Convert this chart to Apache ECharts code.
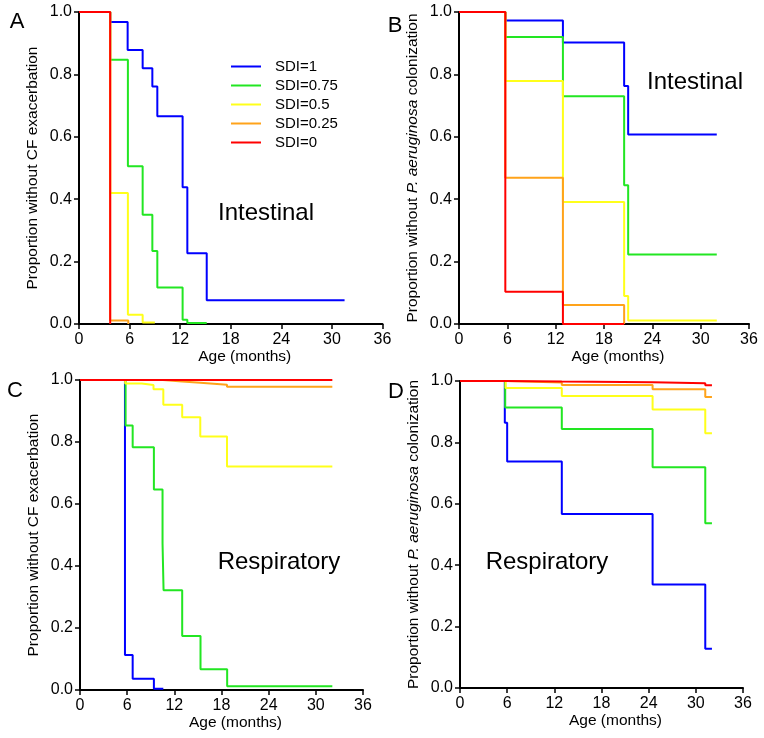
<!DOCTYPE html>
<html>
<head>
<meta charset="utf-8">
<script src="https://cdn.jsdelivr.net/npm/echarts@6/dist/echarts.min.js"></script>
<style>html,body{margin:0;padding:0;background:#fff}#c{width:764px;height:738px}</style>
</head>
<body>
<div id="c"></div>
<script>
// ---- Series names / colours ----
const sdiNames = ['SDI=1', 'SDI=0.75', 'SDI=0.5', 'SDI=0.25', 'SDI=0'];
const sdiColors = ['#0000ff', '#22e622', '#ffff1a', '#ffa31a', '#ff0000'];

// ---- Axis ticks ----
const xTicks = [0, 6, 12, 18, 24, 30, 36];
const yTicks = [0, 0.2, 0.4, 0.6, 0.8, 1.0];

// ---- Panel A: Intestinal, CF exacerbation (time in months, survival) ----
const aBlueT = [0, 3.7, 5.77, 7.55, 8.7, 9.29, 12.29, 12.85, 15.15, 31.5];
const aBlueS = [1, 0.968, 0.878, 0.82, 0.761, 0.666, 0.438, 0.227, 0.076, 0.076];
const aGreenT = [0, 3.7, 5.8, 7.55, 8.7, 9.29, 12.29, 12.85, 15.15];
const aGreenS = [1, 0.847, 0.506, 0.35, 0.234, 0.117, 0.014, 0.003, 0.003];
const aYellowT = [0, 3.7, 5.8, 7.55, 9.0];
const aYellowS = [1, 0.42, 0.03, 0.005, 0.005];
const aOrangeT = [0, 3.7, 5.85];
const aOrangeS = [1, 0.011, 0];
const aRedT = [0, 3.7];
const aRedS = [1, 0];

// ---- Panel B: Intestinal, P. aeruginosa colonization ----
const bBlueT = [0, 5.75, 12.9, 20.5, 21.0, 32.0];
const bBlueS = [1, 0.973, 0.902, 0.763, 0.607, 0.607];
const bGreenT = [0, 5.75, 12.9, 20.5, 21.0, 32.0];
const bGreenS = [1, 0.92, 0.73, 0.445, 0.223, 0.223];
const bYellowT = [0, 5.75, 12.9, 20.5, 21.0, 32.0];
const bYellowS = [1, 0.779, 0.391, 0.09, 0.011, 0.011];
const bOrangeT = [0, 5.75, 12.9, 20.5];
const bOrangeS = [1, 0.469, 0.061, 0];
const bRedT = [0, 5.75, 12.9, 20.5];
const bRedS = [1, 0.103, 0, 0];

// ---- Panel C: Respiratory, CF exacerbation ----
const cBlueT = [0, 5.72, 6.7, 9.4, 10.6];
const cBlueS = [1, 0.113, 0.036, 0.004, 0.004];
const cGreenT = [0, 5.8, 6.7, 9.4, 10.5, 10.63, 13.0, 15.33, 18.72, 32.1];
const cGreenS = [1, 0.853, 0.783, 0.647, 0.473, 0.322, 0.174, 0.067, 0.012, 0.012];
const cYellowT = [0, 5.75, 7.85, 9.35, 10.6, 13.0, 15.3, 18.7, 32.1];
const cYellowS = [1, 0.989, 0.984, 0.97, 0.92, 0.88, 0.818, 0.721, 0.721];
const cOrangeT = [0, 10.55, 13.0, 15.3, 18.7, 32.1];
const cOrangeS = [1, 0.995, 0.991, 0.985, 0.978, 0.978];
const cRedT = [0, 32.1];
const cRedS = [1, 1];

// ---- Panel D: Respiratory, P. aeruginosa colonization ----
const dBlueT = [0, 5.7, 6.0, 12.95, 24.5, 31.2, 32.05];
const dBlueS = [1, 0.864, 0.738, 0.567, 0.337, 0.128, 0.128];
const dGreenT = [0, 5.75, 12.95, 24.5, 31.2, 32.05];
const dGreenS = [1, 0.914, 0.844, 0.719, 0.537, 0.537];
const dYellowT = [0, 5.8, 12.95, 24.5, 31.2, 32.05];
const dYellowS = [1, 0.977, 0.951, 0.907, 0.83, 0.83];
const dOrangeT = [0, 5.86, 12.95, 24.5, 31.2, 32.05];
const dOrangeS = [1, 0.995, 0.987, 0.973, 0.948, 0.948];
const dRedT = [0, 5.86, 12.95, 24.5, 31.2, 32.05];
const dRedS = [1, 0.998, 0.996, 0.993, 0.986, 0.986];

// ---- Texts ----
const panelLetters = ['A', 'B', 'C', 'D'];
const panelTitles = ['Intestinal', 'Intestinal', 'Respiratory', 'Respiratory'];
const xName = 'Age (months)';
const yNameCF = 'Proportion without CF exacerbation';
const yNamePA = '{n|Proportion without }{i|P. aeruginosa}{n| colonization}';

const FONT = '"Liberation Sans", Arial, Helvetica, sans-serif';

const panels = [
  [[aBlueT, aBlueS], [aGreenT, aGreenS], [aYellowT, aYellowS], [aOrangeT, aOrangeS], [aRedT, aRedS]],
  [[bBlueT, bBlueS], [bGreenT, bGreenS], [bYellowT, bYellowS], [bOrangeT, bOrangeS], [bRedT, bRedS]],
  [[cBlueT, cBlueS], [cGreenT, cGreenS], [cYellowT, cYellowS], [cOrangeT, cOrangeS], [cRedT, cRedS]],
  [[dBlueT, dBlueS], [dGreenT, dGreenS], [dYellowT, dYellowS], [dOrangeT, dOrangeS], [dRedT, dRedS]]
];

const grids = [
  {left: 79, top: 12, width: 303.5, height: 312},
  {left: 459, top: 12, width: 290, height: 312},
  {left: 80, top: 380, width: 283, height: 310},
  {left: 460, top: 381, width: 283, height: 307}
];
const yNames = [yNameCF, yNamePA, yNameCF, yNamePA];

const axisLine = {show: true, lineStyle: {color: '#000', width: 2}};
const axisTick = {show: true, inside: false, length: 5, lineStyle: {color: '#000', width: 1.5}};

const xAxes = grids.map((g, i) => ({
  type: 'value', gridIndex: i, min: xTicks[0], max: xTicks[xTicks.length - 1], interval: 6,
  axisLine, axisTick, splitLine: {show: false},
  axisLabel: {color: '#000', fontSize: 16, fontFamily: FONT, margin: 8},
  name: xName, nameLocation: 'middle', nameGap: 24,
  nameTextStyle: {color: '#000', fontSize: 15.5, fontFamily: FONT, padding: [0, 0, 0, 28]}
}));
const yAxes = grids.map((g, i) => ({
  type: 'value', gridIndex: i, min: yTicks[0], max: yTicks[yTicks.length - 1], interval: 0.2,
  axisLine, axisTick, splitLine: {show: false},
  axisLabel: {color: '#000', fontSize: 16, fontFamily: FONT, margin: 7, formatter: v => v.toFixed(1)},
  name: yNames[i], nameLocation: 'middle', nameGap: 38, nameRotate: 90,
  nameTextStyle: {color: '#000', fontSize: 15.5, fontFamily: FONT,
    rich: {n: {fontSize: 15.5, fontFamily: FONT, color: '#000'}, i: {fontSize: 15.5, fontFamily: FONT, color: '#000', fontStyle: 'italic'}}}
}));

const series = [];
panels.forEach((p, pi) => {
  p.forEach((pair, si) => {
    const [t, s] = pair;
    series.push({
      type: 'line', name: sdiNames[si], xAxisIndex: pi, yAxisIndex: pi,
      step: 'end', showSymbol: false, symbol: 'none', z: 2 + si,
      itemStyle: {color: sdiColors[si]},
      lineStyle: {color: sdiColors[si], width: 2},
      data: t.map((x, k) => [x, s[k]])
    });
  });
});

const letterPos = [[17, 22], [395, 26], [15, 391], [396, 392]];
const titlePos = [[266, 213], [695, 82], [279, 562], [547, 562]];
const graphic = [];
letterPos.forEach((p, i) => graphic.push({type: 'text', x: p[0], y: p[1],
  style: {text: panelLetters[i], font: '22px ' + FONT, fill: '#000', align: 'center', verticalAlign: 'middle'}}));
titlePos.forEach((p, i) => graphic.push({type: 'text', x: p[0], y: p[1],
  style: {text: panelTitles[i], font: '24px ' + FONT, fill: '#000', align: 'center', verticalAlign: 'middle'}}));

const chart = echarts.init(document.getElementById('c'), null, {renderer: 'canvas'});
chart.setOption({
  animation: false,
  backgroundColor: '#fff',
  grid: grids.map(g => Object.assign({containLabel: false}, g)),
  xAxis: xAxes,
  yAxis: yAxes,
  legend: {
    data: sdiNames, orient: 'vertical', left: 226, top: 52,
    icon: 'rect', itemWidth: 30, itemHeight: 2, itemGap: 0,
    textStyle: {color: '#000', fontSize: 15, fontFamily: FONT, lineHeight: 19, padding: [0, 0, 0, 9]},
    selectedMode: false
  },
  graphic,
  series
});
</script>
</body>
</html>
